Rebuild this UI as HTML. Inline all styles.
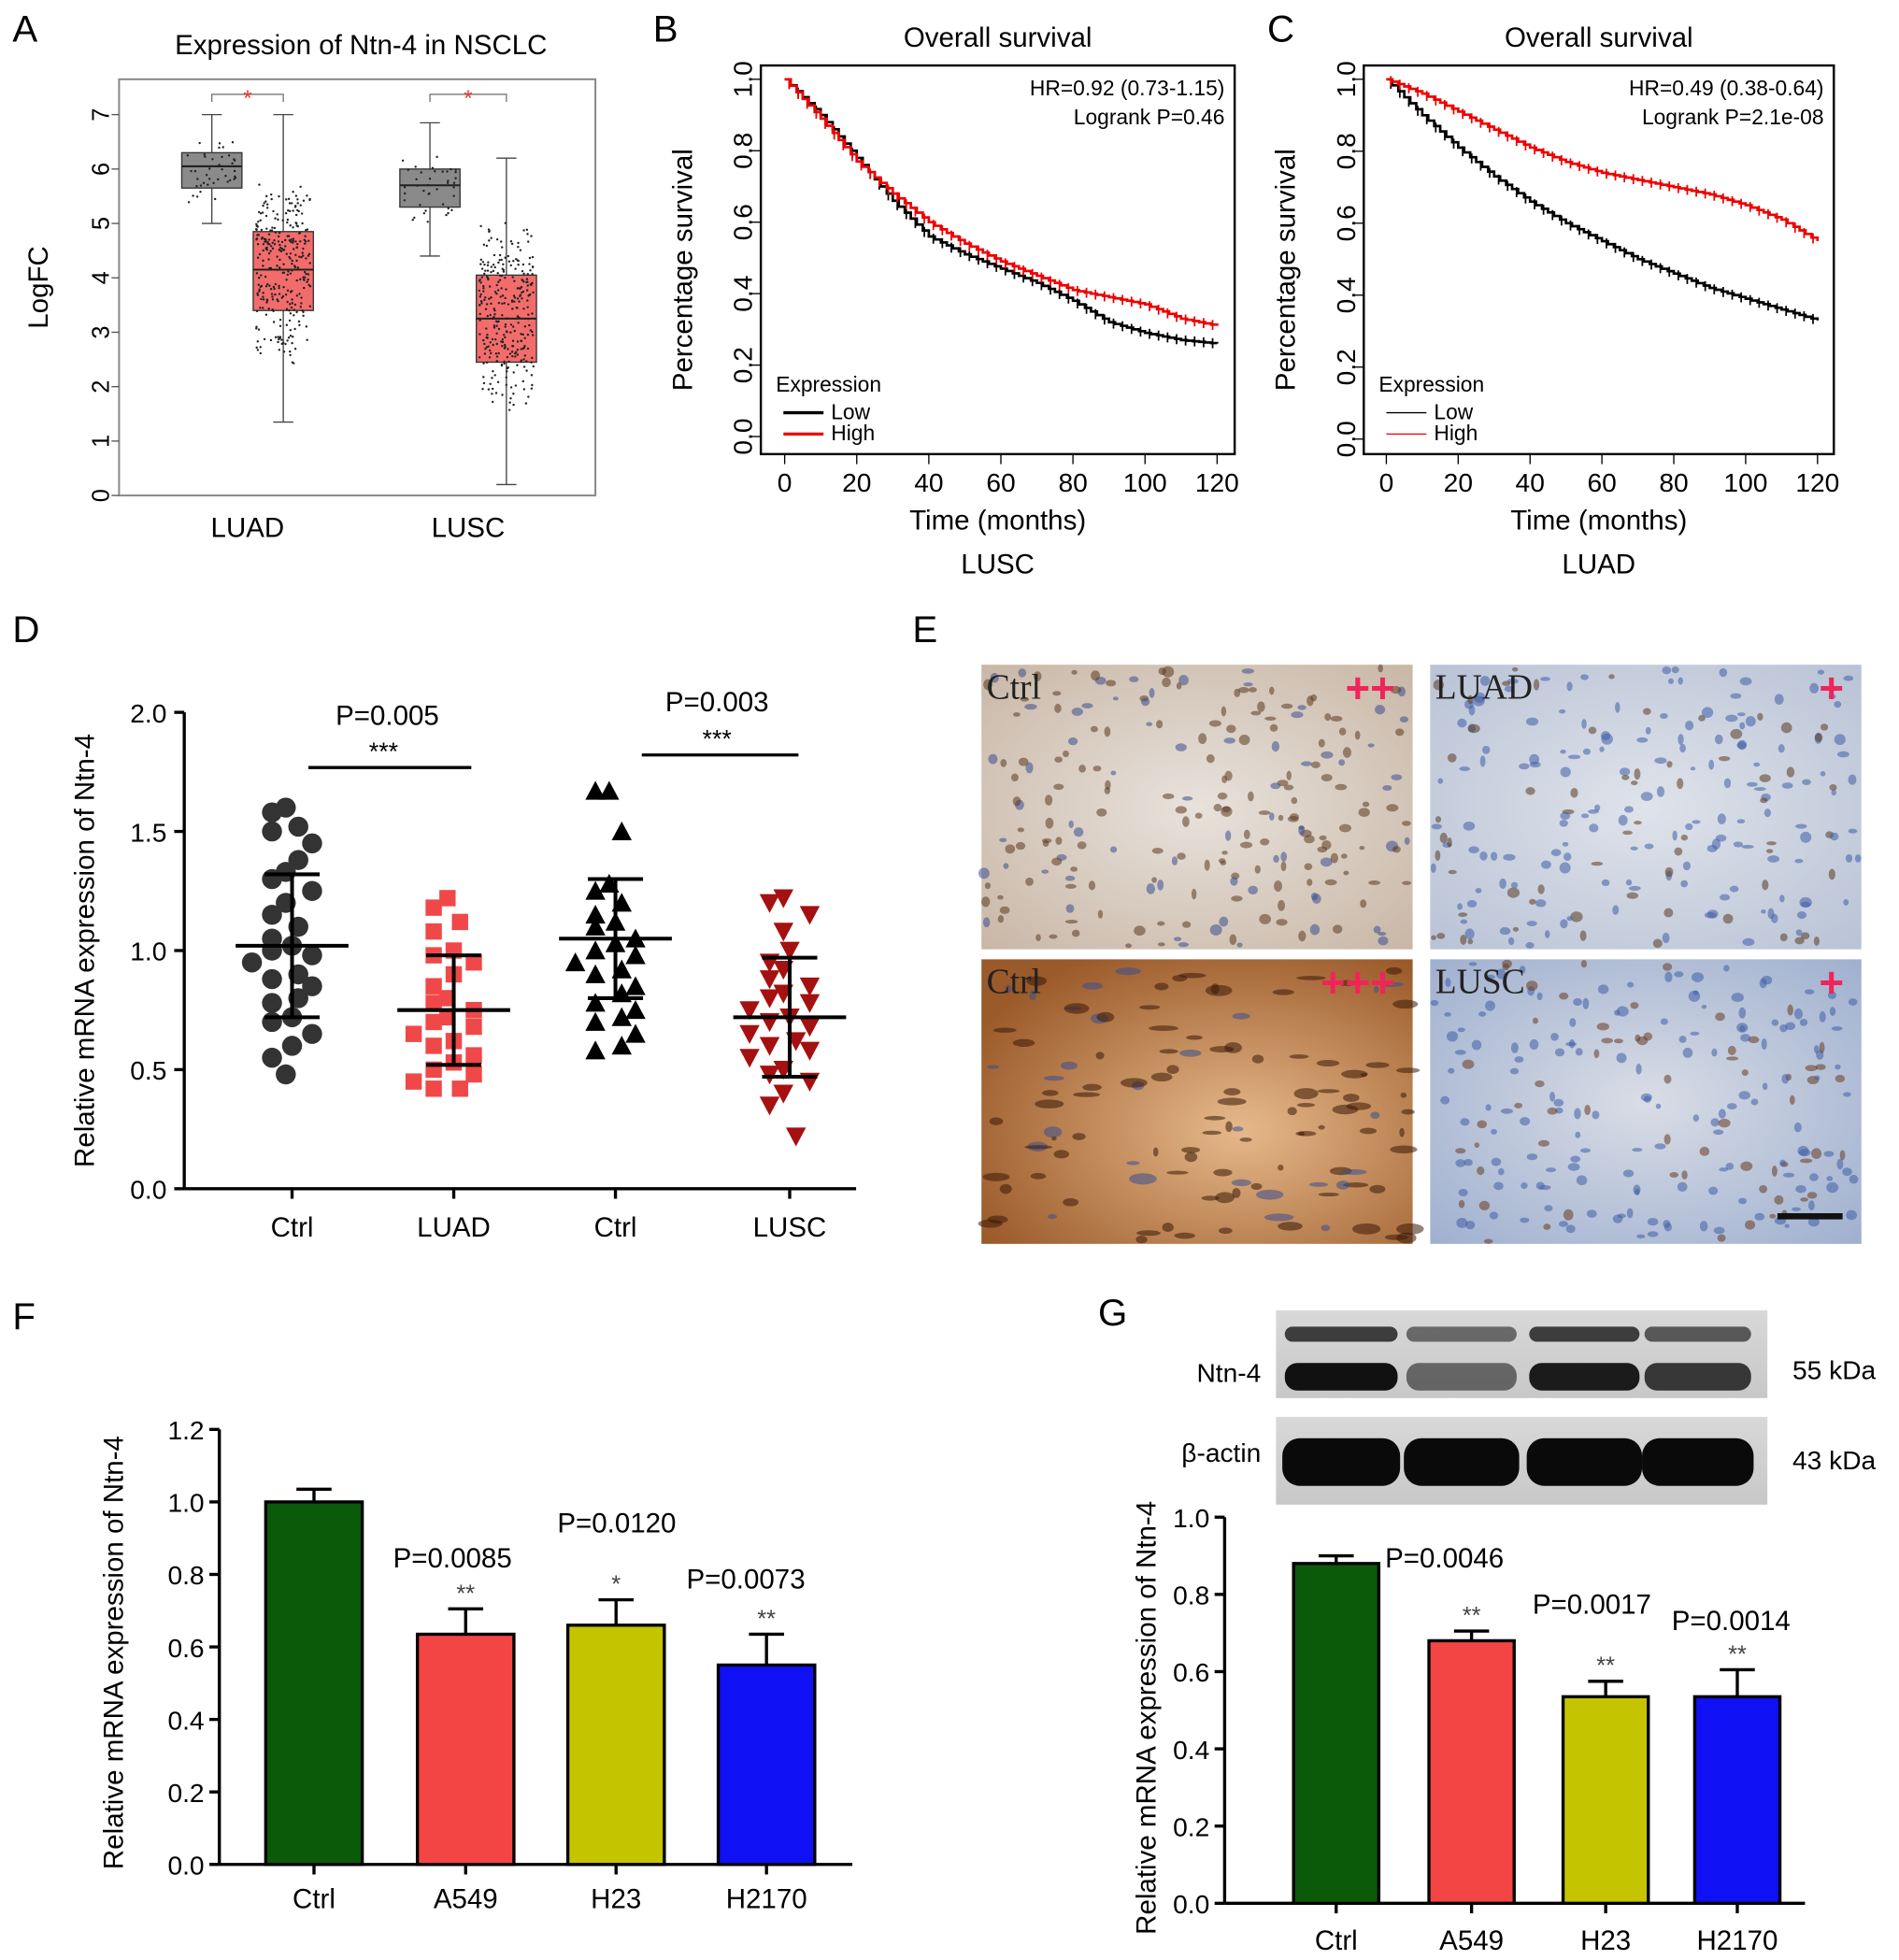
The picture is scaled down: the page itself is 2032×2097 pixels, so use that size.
<!DOCTYPE html>
<html><head><meta charset="utf-8"><style>
html,body{margin:0;padding:0;background:#fff}
svg{display:block;font-family:"Liberation Sans",Arial,sans-serif}
</style></head><body>
<svg id="fig" width="2032" height="2097" viewBox="0 0 1515 1563" xmlns="http://www.w3.org/2000/svg">
<defs>
<radialGradient id="tl" cx="50%" cy="50%" r="70%"><stop offset="0" stop-color="#e8e2dc"/><stop offset="1" stop-color="#c9b7a6"/></radialGradient>
<radialGradient id="tr" cx="50%" cy="50%" r="70%"><stop offset="0" stop-color="#dfe3ea"/><stop offset="1" stop-color="#b9c3d6"/></radialGradient>
<radialGradient id="bl" cx="60%" cy="60%" r="70%"><stop offset="0" stop-color="#e6b98a"/><stop offset="1" stop-color="#9b5a2a"/></radialGradient>
<radialGradient id="br" cx="50%" cy="50%" r="70%"><stop offset="0" stop-color="#d9dde6"/><stop offset="1" stop-color="#9fb0cf"/></radialGradient>
<linearGradient id="blot" x1="0" x2="0" y1="0" y2="1"><stop offset="0" stop-color="#d8d8d8"/><stop offset="1" stop-color="#c8c8c8"/></linearGradient>
</defs>
<g id="root"></g>
</svg>
<script>
// ---------- DATA ----------
const boxCats = ["LUAD","LUSC"];
const boxNormal = [[5.0,5.65,6.05,6.3,7.0],[4.4,5.3,5.7,6.0,6.85]];
const boxTumor = [[1.35,3.4,4.15,4.85,7.0],[0.2,2.45,3.25,4.05,6.2]];
const boxTicks = [0,1,2,3,4,5,6,7];

const survTime = [0,10,20,30,40,50,60,70,80,90,100,110,120];
const bLow  = [1,0.9,0.78,0.66,0.56,0.51,0.47,0.43,0.38,0.32,0.29,0.27,0.26];
const bHigh = [1,0.89,0.77,0.68,0.6,0.54,0.49,0.45,0.41,0.39,0.37,0.33,0.31];
const cLow  = [1,0.9,0.81,0.73,0.66,0.6,0.55,0.5,0.46,0.42,0.39,0.36,0.33];
const cHigh = [1,0.96,0.91,0.86,0.81,0.77,0.74,0.72,0.70,0.68,0.65,0.61,0.55];
const survXTicks = [0,20,40,60,80,100,120];
const survYTicks = [0,0.2,0.4,0.6,0.8,1.0];

const dCats = ["Ctrl","LUAD","Ctrl","LUSC"];
const dMeans = [1.02,0.75,1.05,0.72];
const dSD = [0.3,0.23,0.25,0.25];
const dPts1 = [1.6,1.58,1.52,1.5,1.45,1.38,1.33,1.3,1.25,1.2,1.15,1.1,1.05,1.02,1.0,0.98,0.95,0.9,0.88,0.85,0.8,0.78,0.72,0.7,0.65,0.6,0.55,0.48];
const dPts2 = [1.22,1.18,1.12,1.08,1.0,0.98,0.95,0.9,0.85,0.8,0.78,0.75,0.72,0.7,0.68,0.65,0.62,0.6,0.56,0.53,0.5,0.48,0.45,0.42,0.42];
const dPts3 = [1.67,1.67,1.5,1.28,1.25,1.2,1.15,1.12,1.1,1.05,1.03,1.0,0.98,0.95,0.92,0.9,0.85,0.82,0.78,0.75,0.72,0.7,0.65,0.6,0.58];
const dPts4 = [1.22,1.2,1.15,1.08,1.0,0.95,0.92,0.88,0.85,0.82,0.8,0.78,0.75,0.72,0.7,0.68,0.65,0.62,0.6,0.58,0.55,0.5,0.48,0.45,0.4,0.35,0.22];
const dTicks = [0.0,0.5,1.0,1.5,2.0];

const fCats = ["Ctrl","A549","H23","H2170"];
const fVals = [1.0,0.635,0.66,0.55];
const fErr  = [0.035,0.07,0.07,0.085];
const fP = ["","P=0.0085","P=0.0120","P=0.0073"];
const fStars = ["","**","*","**"];
const fTicks = [0,0.2,0.4,0.6,0.8,1.0,1.2];

const gCats = ["Ctrl","A549","H23","H2170"];
const gVals = [0.88,0.68,0.535,0.535];
const gErr  = [0.02,0.025,0.04,0.07];
const gP = ["P=0.0046","","P=0.0017","P=0.0014"];
const gStars = ["","**","**","**"];
const gTicks = [0,0.2,0.4,0.6,0.8,1.0];
const barColors = ["#0a5a0a","#f44545","#c5c400","#1010f5"];

// ---------- HELPERS ----------
const NS="http://www.w3.org/2000/svg";
const root=document.getElementById('root');
function el(tag,attrs,parent){const e=document.createElementNS(NS,tag);for(const k in attrs)e.setAttribute(k,attrs[k]);(parent||root).appendChild(e);return e;}
function txt(x,y,s,size,anchor,parent,extra){const t=el('text',Object.assign({x:x,y:y,'font-size':size,'text-anchor':anchor||'middle',fill:'#000'},extra||{}),parent);t.textContent=s;return t;}
function grp(name){const g=el('g',{});return g;}
let seed=7;function rnd(){seed=(seed*16807)%2147483647;return seed/2147483647;}

// ---------- PANEL LETTERS ----------
[["A",10,33],["B",521,33],["C",1011,33],["D",10,512],["E",728,512],["F",10,1060],["G",876,1057]].forEach(([l,x,y])=>{
  const t=txt(x,y,l,30,'start');
  
  
});

// ---------- PANEL A ----------
(function(){
  const g=grp('panel-a-boxplot');
  const yA=v=>395-v*43.4;
  el('rect',{x:95,y:63,width:380,height:332,fill:'none',stroke:'#888','stroke-width':1.5},g);
  const t=txt(288,43,'Expression of Ntn-4 in NSCLC',22,'middle',g);
  
  boxTicks.forEach(v=>{el('line',{x1:89,x2:95,y1:yA(v),y2:yA(v),stroke:'#555'},g);
    txt(80,yA(v)+7,String(v),19,'middle',g,{transform:`rotate(-90 80 ${yA(v)})`});});
  const yl=txt(38,229,'LogFC',22,'middle',g,{transform:'rotate(-90 38 229)'});
  
  const centers=[[169,226],[343,404]];
  boxCats.forEach((c,i)=>{
    const cx=(centers[i][0]+centers[i][1])/2;
    txt(cx,428,c,22,'middle',g);
    [[boxNormal[i],centers[i][0],'#8a8a8a'],[boxTumor[i],centers[i][1],'#f26c6c']].forEach(([b,x,col],j)=>{
      const w=24;
      el('line',{x1:x,x2:x,y1:yA(b[0]),y2:yA(b[4]),stroke:'#444'},g);
      el('line',{x1:x-8,x2:x+8,y1:yA(b[0]),y2:yA(b[0]),stroke:'#444'},g);
      el('line',{x1:x-8,x2:x+8,y1:yA(b[4]),y2:yA(b[4]),stroke:'#444'},g);
      const r=el('rect',{x:x-w,y:yA(b[3]),width:2*w,height:yA(b[1])-yA(b[3]),fill:col,stroke:'#333'},g);
      
      
      const n=j?300:40;
      for(let k=0;k<n;k++){const v=b[1]+(b[3]-b[1])*(rnd()*1.6-0.3);const vv=Math.max(b[0],Math.min(b[4],v+(rnd()-0.5)*(j?1.2:0.3)));
        el('circle',{cx:x+(rnd()-0.5)*2*w*0.9,cy:yA(vv),r:0.9,fill:'#222'},g);}
      el('line',{x1:x-w,x2:x+w,y1:yA(b[2]),y2:yA(b[2]),stroke:'#222','stroke-width':1.5},g);
    });
    el('path',{d:`M${centers[i][0]} 81 V75 H${centers[i][1]} V81`,fill:'none',stroke:'#777'},g);
    txt(cx,84,'*',18,'middle',g,{fill:'#e33'});
  });
})();

// ---------- SURVIVAL ----------
function surv(name,box,x0,x1,y1,y0,low,high,hr,lp,sub,thin){
  const g=grp(name);
  const xS=t=>x0+(x1-x0)*t/120, yS=v=>y0-(y0-y1)*v;
  el('rect',{x:box[0],y:box[1],width:box[2]-box[0],height:box[3]-box[1],fill:'none',stroke:'#000','stroke-width':1.8},g);
  txt((box[0]+box[2])/2,37,'Overall survival',22,'middle',g);
  survXTicks.forEach(t=>{el('line',{x1:xS(t),x2:xS(t),y1:box[3],y2:box[3]+8,stroke:'#000'},g);txt(xS(t),box[3]+30,String(t),21,'middle',g);});
  survYTicks.forEach(v=>{el('line',{x1:box[0]-8,x2:box[0],y1:yS(v),y2:yS(v),stroke:'#000'},g);txt(box[0]-14,yS(v),v.toFixed(1),21,'middle',g,{transform:`rotate(-90 ${box[0]-14} ${yS(v)})`,dy:'7'});});
  txt((box[0]+box[2])/2,box[3]+60,'Time (months)',22,'middle',g);
  txt((box[0]+box[2])/2,box[3]+95,sub,22,'middle',g);
  const yc=(box[1]+box[3])/2+8;
  txt(box[0]-55,yc,'Percentage survival',22,'middle',g,{transform:`rotate(-90 ${box[0]-55} ${yc})`});
  txt(box[2]-8,76,hr,17,'end',g);txt(box[2]-8,99,lp,17,'end',g);
  txt(box[0]+12,312,'Expression',17,'start',g);
  el('line',{x1:box[0]+18,x2:box[0]+50,y1:329,y2:329,stroke:'#000','stroke-width':thin?1:2.5},g);
  el('line',{x1:box[0]+18,x2:box[0]+50,y1:346,y2:346,stroke:'#e00','stroke-width':thin?1:2.5},g);
  txt(box[0]+56,334,'Low',17,'start',g);txt(box[0]+56,351,'High',17,'start',g);
  [[low,'#000','low'],[high,'#e00','high']].forEach(([arr,col,nm])=>{
    let d=`M${xS(survTime[0])} ${yS(arr[0])}`;
    for(let i=1;i<survTime.length;i++){const n=6;for(let k=1;k<=n;k++){const t=survTime[i-1]+(survTime[i]-survTime[i-1])*k/n;const v=arr[i-1]+(arr[i]-arr[i-1])*k/n;d+=` H${xS(t)} V${yS(v)}`;}}
    const p=el('path',{d:d,fill:'none',stroke:col,'stroke-width':2},g);
    
    
    for(let i=0;i<survTime.length-1;i++){for(let k=0;k<4;k++){const f=(k+0.5)/4;const t=survTime[i]+10*f;const v=arr[i]+(arr[i+1]-arr[i])*f;
      el('line',{x1:xS(t),x2:xS(t),y1:yS(v)-4,y2:yS(v)+4,stroke:col,'stroke-width':1.3},g);}}
  });
}
surv('panel-b-survival-lusc',[607,52,985,362],626,971,63,348,bLow,bHigh,'HR=0.92 (0.73-1.15)','Logrank P=0.46','LUSC',false);
surv('panel-c-survival-luad',[1088,52,1463,362],1106,1450,63,350,cLow,cHigh,'HR=0.49 (0.38-0.64)','Logrank P=2.1e-08','LUAD',true);

// ---------- PANEL D ----------
(function(){
  const g=grp('panel-d-scatter');
  const yD=v=>948-v*190;
  const xs=[233,362,491,630];
  el('line',{x1:147,x2:147,y1:568,y2:948,stroke:'#000','stroke-width':2.5},g);
  el('line',{x1:147,x2:683,y1:948,y2:948,stroke:'#000','stroke-width':2.5},g);
  dTicks.forEach(v=>{el('line',{x1:139,x2:147,y1:yD(v),y2:yD(v),stroke:'#000','stroke-width':2.5},g);txt(133,yD(v)+8,v.toFixed(1),21,'end',g);});
  txt(75,758,'Relative mRNA expression of Ntn-4',22,'middle',g,{transform:'rotate(-90 75 758)'});
  dCats.forEach((c,i)=>{el('line',{x1:xs[i],x2:xs[i],y1:948,y2:956,stroke:'#000','stroke-width':2.5},g);txt(xs[i],986,c,22,'middle',g);});
  const sets=[[dPts1,'#333','circle'],[dPts2,'#f04848','square'],[dPts3,'#000','tri'],[dPts4,'#a51010','tridown']];
  sets.forEach(([arr,col,sh],i)=>{
    const used={};
    arr.forEach((v,k)=>{
      const bin=Math.round(v*10);used[bin]=(used[bin]||0)+1;const n=used[bin];
      const off=(n%2?1:-1)*Math.floor(n/2)*16+(n===1?(k%3-1)*5:0);
      const x=xs[i]+Math.max(-45,Math.min(45,off)),y=yD(v);
      let m;
      if(sh==='circle')m=el('circle',{cx:x,cy:y,r:8,fill:col},g);
      else if(sh==='square')m=el('rect',{x:x-6.5,y:y-6.5,width:13,height:13,fill:col},g);
      else if(sh==='tri')m=el('path',{d:`M${x} ${y-8}L${x+8} ${y+7}L${x-8} ${y+7}Z`,fill:col},g);
      else m=el('path',{d:`M${x} ${y+8}L${x+8} ${y-7}L${x-8} ${y-7}Z`,fill:col},g);
      
      
    });
    el('line',{x1:xs[i]-45,x2:xs[i]+45,y1:yD(dMeans[i]),y2:yD(dMeans[i]),stroke:'#000','stroke-width':3},g);
    el('line',{x1:xs[i],x2:xs[i],y1:yD(dMeans[i]-dSD[i]),y2:yD(dMeans[i]+dSD[i]),stroke:'#000','stroke-width':3},g);
    [dMeans[i]-dSD[i],dMeans[i]+dSD[i]].forEach(v=>el('line',{x1:xs[i]-22,x2:xs[i]+22,y1:yD(v),y2:yD(v),stroke:'#000','stroke-width':3},g));
  });
  el('line',{x1:246,x2:376,y1:612,y2:612,stroke:'#000','stroke-width':2.5},g);
  txt(309,578,'P=0.005',22,'middle',g);txt(306,606,'***',20,'middle',g);
  el('line',{x1:512,x2:637,y1:602,y2:602,stroke:'#000','stroke-width':2.5},g);
  txt(572,567,'P=0.003',22,'middle',g);txt(572,596,'***',20,'middle',g);
})();

// ---------- PANEL E ----------
(function(){
  const g=grp('panel-e-ihc-images');
  const tiles=[[783,530,'tl','Ctrl','++',['#5b3a20','#3b4f8f']],[1141,530,'tr','LUAD','+',['#3f5fa8','#5b3a20']],[783,765,'bl','Ctrl','+++',['#3a1a08','#3b4f8f']],[1141,765,'br','LUSC','+',['#3f5fa8','#6a3a20']]];
  tiles.forEach(([x,y,gr,lab,pl,cols])=>{
    const gg=el('g',{},g);
    
    
    el('rect',{x:x,y:y,width:344,height:227,fill:`url(#${gr})`},gg);
    for(let k=0;k<(gr==='bl'?120:220);k++){const c=rnd()<0.7?cols[0]:cols[1];
      el('ellipse',{cx:x+rnd()*340+2,cy:y+rnd()*223+2,rx:2+rnd()*(gr==='bl'?10:3),ry:1.5+rnd()*3,fill:c,opacity:0.55},gg);}
    txt(x+4,y+27,lab,28,'start',gg,{'font-family':'Liberation Serif, serif',fill:'#222'});
    txt(x+330,y+30,pl,34,'end',gg,{fill:'#f0245a','font-weight':'bold'});
  });
  el('line',{x1:1418,x2:1470,y1:970,y2:970,stroke:'#111','stroke-width':5},g);
})();

// ---------- BAR CHARTS ----------
function bars(name,axX,yTop,yBot,maxV,xEnd,bx,bw,vals,err,cats,ps,stars,ticks,labY){
  const g=grp(name);
  const yB=v=>yBot-(yBot-yTop)*v/maxV;
  el('line',{x1:axX,x2:axX,y1:yTop,y2:yBot,stroke:'#000','stroke-width':2.5},g);
  el('line',{x1:axX,x2:xEnd,y1:yBot,y2:yBot,stroke:'#000','stroke-width':2.5},g);
  ticks.forEach(v=>{el('line',{x1:axX-8,x2:axX,y1:yB(v),y2:yB(v),stroke:'#000','stroke-width':2.5},g);txt(axX-12,yB(v)+8,v.toFixed(1),21,'end',g);});
  vals.forEach((v,i)=>{
    const x=bx[i],cx=x+bw/2;
    el('line',{x1:cx,x2:cx,y1:yB(v),y2:yB(v+err[i]),stroke:'#000','stroke-width':2.5},g);
    el('line',{x1:cx-14,x2:cx+14,y1:yB(v+err[i]),y2:yB(v+err[i]),stroke:'#000','stroke-width':2.5},g);
    const r=el('rect',{x:x,y:yB(v),width:bw,height:yBot-yB(v),fill:barColors[i],stroke:'#000','stroke-width':2.5},g);
    
    
    el('line',{x1:cx,x2:cx,y1:yBot,y2:yBot+8,stroke:'#000','stroke-width':2.5},g);
    txt(cx,labY,cats[i],22,'middle',g);
    if(stars[i])txt(cx,yB(v+err[i])-6,stars[i],19,'middle',g,{fill:'#444'});
  });
  return {g,yB};
}
(function(){
  const r=bars('panel-f-bar-chart',175,1140,1487,1.2,680,[212,333,453,573],77,fVals,fErr,fCats,fP,fStars,fTicks,1522);
  txt(98,1318,'Relative mRNA expression of Ntn-4',22,'middle',r.g,{transform:'rotate(-90 98 1318)'});
  txt(361,1250,fP[1],22,'middle',r.g);txt(492,1222,fP[2],22,'middle',r.g);txt(595,1267,fP[3],22,'middle',r.g);
})();
(function(){
  const r=bars('panel-g-bar-chart',977,1210,1518,1.0,1440,[1032,1140,1247,1352],68,gVals,gErr,gCats,gP,gStars,gTicks,1555);
  txt(922,1370,'Relative mRNA expression of Ntn-4',22,'middle',r.g,{transform:'rotate(-90 922 1370)'});
  txt(1105,1250,gP[0],22,'start',r.g);txt(1270,1287,gP[2],22,'middle',r.g);txt(1381,1300,gP[3],22,'middle',r.g);
  const b=grp('panel-g-western-blot');
  el('rect',{x:1018,y:1045,width:392,height:70,fill:'url(#blot)'},b);
  el('rect',{x:1018,y:1130,width:392,height:70,fill:'url(#blot)'},b);
  const lanes=[1025,1122,1220,1312],lw=[90,88,88,85];
  const up=[0.85,0.6,0.85,0.7],lo=[1,0.55,0.95,0.8];
  lanes.forEach((x,i)=>{
    el('rect',{x:x,y:1058,width:lw[i],height:12,rx:6,fill:'#222',opacity:up[i]},b);
    el('rect',{x:x,y:1087,width:lw[i],height:22,rx:10,fill:'#111',opacity:lo[i]},b);
    el('rect',{x:x-2,y:1147,width:lw[i]+4,height:38,rx:14,fill:'#0a0a0a'},b);
  });
  txt(1006,1102,'Ntn-4',21,'end',b);txt(1006,1166,'β-actin',21,'end',b);
  txt(1430,1100,'55 kDa',21,'start',b);txt(1430,1172,'43 kDa',21,'start',b);
})();
</script>
</body></html>
